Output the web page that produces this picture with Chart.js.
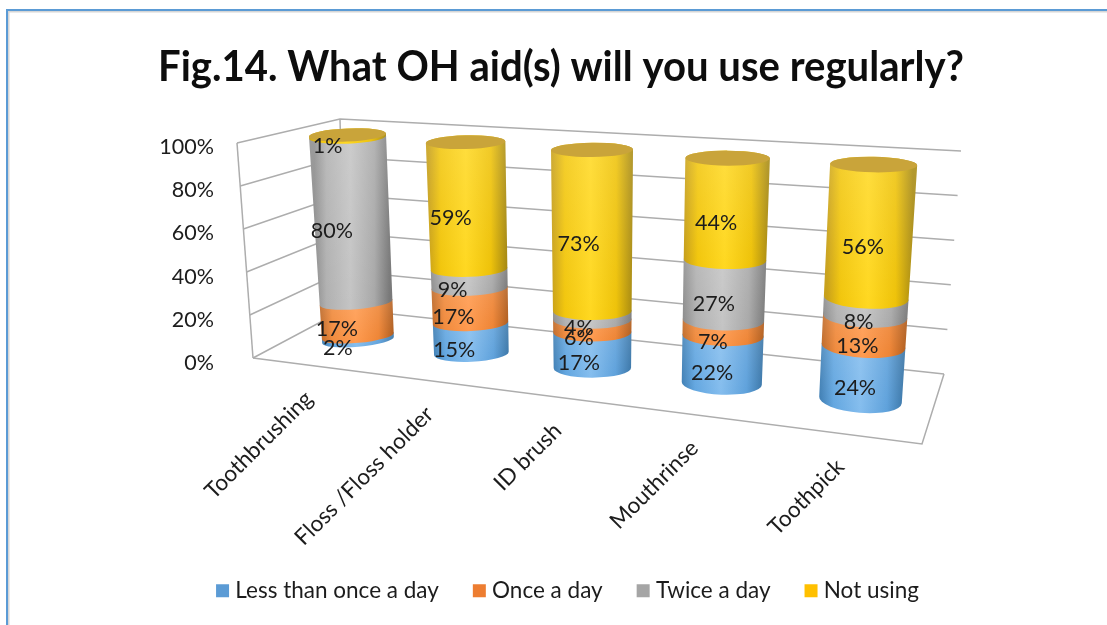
<!DOCTYPE html>
<html>
<head>
<meta charset="utf-8">
<title>Fig.14</title>
<script src="https://cdn.jsdelivr.net/npm/chart.js@4/dist/chart.umd.js"></script>
<style>
  html, body {margin: 0; padding: 0; background: #fff;}
  #wrap {position: relative; width: 1107px; height: 625px; overflow: hidden;}
  #frame {
    position: absolute; left: 6px; top: 9px; right: -4px; bottom: -4px;
    border-left: 2.5px solid #5b9bd5; border-top: 2.5px solid #5b9bd5;
    box-shadow: inset 1.5px 1.5px 0 #d6d6d6;
  }
  canvas {position: absolute; left: 0; top: 0;}
</style>
</head>
<body>
<div id="wrap">
  <div id="frame"></div>
  <canvas id="chart" width="1107" height="625"></canvas>
</div>
<script>
const FONT = "Lato, 'Open Sans', sans-serif";
const INK = "#1c1c1c";

const titleText = "Fig.14. What OH aid(s) will you use regularly?";
const categories = ["Toothbrushing", "Floss /Floss holder", "ID brush", "Mouthrinse", "Toothpick"];
const seriesNames = ["Less than once a day", "Once a day", "Twice a day", "Not using"];

const lessThanOnce = [2, 15, 17, 22, 24];
const onceADay = [17, 17, 6, 7, 13];
const twiceADay = [80, 9, 4, 27, 8];
const notUsing = [1, 59, 73, 44, 56];

const seriesValues = [lessThanOnce, onceADay, twiceADay, notUsing];
const seriesColors = ["#5b9bd5", "#ed7d31", "#a5a5a5", "#ffc000"];

// Side shading of a cylinder: left edge, flank, highlight, flank, right edge
const seriesShades = [
  ["#3f7fb5", "#62a6e0", "#84bdee", "#5ea1db", "#3a76a8"],
  ["#c06a28", "#f08a3c", "#ff9a4e", "#ee8434", "#b05c1c"],
  ["#8c8c8c", "#b0b0b0", "#c4c4c4", "#a8a8a8", "#787878"],
  ["#c8a018", "#f2c60c", "#ffd820", "#eec208", "#a88a10"]
];
const capColor = "#c9a43a";
const gridColor = "#adadad";

// Oblique view: where the plane through the cylinder axes lands on the page
const axisPlane = [[358, 340], [860.5, 400], [873.5, 167], [347.5, 135]];
// Walls of the box, each corner given at 0% and at 100%
const wallFront = {low: [253, 358], high: [237, 143]};
const wallBack = {low: [345, 309], high: [340, 119]};
const wallRight = {low: [944, 374], high: [961, 151]};
const floorFrontRight = [922, 444];

// Bilinear corners: [first-bottom, last-bottom, last-top, first-top]
const radiusFactor = [0.947, 1.09, 1.145, 1.013];
const squash = [0.19, 0.31, 0.18, 0.17];
const tilt = [-0.09, 0.08, 0.02, -0.04];

function bilinear(c, s, t) {
  const low = c[0] + (c[1] - c[0]) * s;
  const high = c[3] + (c[2] - c[3]) * s;
  return low + (high - low) * t;
}

function lerpPoint(a, b, t) {
  return [a[0] + (b[0] - a[0]) * t, a[1] + (b[1] - a[1]) * t];
}

// Unit square to quad
function makeProjection(q) {
  const [[x0, y0], [x1, y1], [x2, y2], [x3, y3]] = q;
  const dx1 = x1 - x2, dx2 = x3 - x2, sx = x0 - x1 + x2 - x3;
  const dy1 = y1 - y2, dy2 = y3 - y2, sy = y0 - y1 + y2 - y3;
  const den = dx1 * dy2 - dx2 * dy1;
  const g = (sx * dy2 - dx2 * sy) / den;
  const h = (dx1 * sy - sx * dy1) / den;
  const a = x1 - x0 + g * x1, b = x3 - x0 + h * x3;
  const d = y1 - y0 + g * y1, e = y3 - y0 + h * y3;
  return (s, t) => {
    const w = g * s + h * t + 1;
    return [(a * s + b * t + x0) / w, (d * s + e * t + y0) / w];
  };
}

const project = makeProjection(axisPlane);

// Chart pixel to plane coordinates, first bar = 0, last bar = 1, 0% = 0, 100% = 1
function planeCoords(chart, px, py) {
  const x = chart.scales.x, y = chart.scales.y;
  const left = x.getPixelForTick(0), right = x.getPixelForTick(categories.length - 1);
  const y0 = y.getPixelForValue(0), y100 = y.getPixelForValue(100);
  return [(px - left) / (right - left), (y0 - py) / (y0 - y100)];
}

function drawWalls(chart) {
  const {ctx, scales: {y}} = chart;
  const y0 = y.getPixelForValue(0), y100 = y.getPixelForValue(100);
  ctx.save();
  ctx.strokeStyle = gridColor;
  ctx.lineWidth = 1.5;
  const line = (...pts) => {
    ctx.beginPath();
    pts.forEach((p, i) => i ? ctx.lineTo(p[0], p[1]) : ctx.moveTo(p[0], p[1]));
    ctx.stroke();
  };
  y.ticks.forEach(tick => {
    const t = (y0 - y.getPixelForValue(tick.value)) / (y0 - y100);
    line(
      lerpPoint(wallFront.low, wallFront.high, t),
      lerpPoint(wallBack.low, wallBack.high, t),
      lerpPoint(wallRight.low, wallRight.high, t)
    );
  });
  line(wallFront.low, wallFront.high);
  line(wallBack.low, wallBack.high);
  line(wallFront.low, floorFrontRight, wallRight.low);
  ctx.restore();
}

function ring(chart, el, py) {
  const [s, t] = planeCoords(chart, el.x, py);
  const [cx, cy] = project(s, t);
  const rx = el.width / 2 * bilinear(radiusFactor, s, t);
  return {cx, cy, rx, ry: rx * bilinear(squash, s, t), rot: bilinear(tilt, s, t)};
}

function drawSegment(chart, el, shades, withCap) {
  const {ctx} = chart;
  const low = ring(chart, el, el.base);
  const high = ring(chart, el, el.y);

  ctx.beginPath();
  ctx.ellipse(low.cx, low.cy, low.rx, low.ry, low.rot, 0, Math.PI);
  ctx.ellipse(high.cx, high.cy, high.rx, high.ry, high.rot, Math.PI, Math.PI * 2);
  ctx.closePath();

  const midX = (low.cx + high.cx) / 2, midR = (low.rx + high.rx) / 2;
  const side = ctx.createLinearGradient(midX - midR, 0, midX + midR, 0);
  [0, 0.16, 0.48, 0.8, 1].forEach((stop, i) => side.addColorStop(stop, shades[i]));
  ctx.fillStyle = side;
  ctx.fill();

  // Light falls from above, each band fades downwards
  const sheen = ctx.createLinearGradient(0, high.cy - high.ry, 0, low.cy + low.ry);
  sheen.addColorStop(0, "rgba(255,255,255,0.14)");
  sheen.addColorStop(1, "rgba(255,255,255,0)");
  ctx.fillStyle = sheen;
  ctx.fill();

  if (withCap) {
    ctx.beginPath();
    ctx.ellipse(high.cx, high.cy, high.rx, high.ry, high.rot, 0, Math.PI * 2);
    ctx.fillStyle = capColor;
    ctx.fill();
  }
}

const obliqueBars = {
  id: "obliqueBars",
  afterLayout(chart) {
    // legend sits a little right of the title's centre line
    chart.legend.left += 9;
    chart.legend.right += 9;
  },
  beforeDatasetDraw() {
    return false; // flat rectangles are replaced by the cylinders below
  },
  beforeDatasetsDraw(chart) {
    drawWalls(chart);
    categories.forEach((_, i) => {
      seriesValues.forEach((_, ds) => {
        const el = chart.getDatasetMeta(ds).data[i];
        drawSegment(chart, el, seriesShades[ds], ds === seriesValues.length - 1);
      });
    });
  },
  afterDatasetsDraw(chart) {
    const {ctx} = chart;
    ctx.save();
    ctx.fillStyle = INK;
    ctx.textBaseline = "middle";
    ctx.textAlign = "center";
    ctx.font = "21.5px " + FONT;
    seriesValues.forEach((values, ds) => {
      chart.getDatasetMeta(ds).data.forEach((el, i) => {
        const [s, t] = planeCoords(chart, el.x, (el.y + el.base) / 2);
        const [px, py] = project(s, t);
        ctx.fillText(values[i] + "%", px - 20 + 13 * s, py + 10 + 5 * s);
      });
    });

    // Category labels follow the slanted front edge of the floor
    ctx.textAlign = "right";
    ctx.font = "22.5px " + FONT;
    categories.forEach((name, i) => {
      const el = chart.getDatasetMeta(0).data[i];
      const [s] = planeCoords(chart, el.x, el.base);
      const [px, py] = project(s, 0);
      ctx.save();
      ctx.translate(px - 49 + 29 * s, py + 55 + 8 * s);
      ctx.rotate(-Math.PI / 4);
      ctx.fillText(name, 0, 0);
      ctx.restore();
    });
    ctx.restore();
  }
};

new Chart(document.getElementById("chart"), {
  type: "bar",
  plugins: [obliqueBars],
  data: {
    labels: categories,
    datasets: seriesNames.map((name, i) => ({
      label: name,
      data: seriesValues[i],
      backgroundColor: seriesColors[i],
      categoryPercentage: 1,
      barPercentage: 0.5135
    }))
  },
  options: {
    responsive: false,
    animation: false,
    layout: {padding: {left: 158, right: 143, top: 0, bottom: 13}},
    scales: {
      x: {
        stacked: true,
        grid: {display: false},
        border: {display: false},
        ticks: {display: false},
        afterFit(scale) { scale.height = 177.5; }
      },
      y: {
        stacked: true,
        min: 0,
        max: 100,
        grid: {display: false, drawTicks: false},
        border: {display: false},
        ticks: {
          stepSize: 20,
          padding: 10,
          color: INK,
          font: {family: FONT, size: 21.5},
          callback: value => value + "%"
        },
        afterFit(scale) { scale.width = 66; }
      }
    },
    plugins: {
      title: {
        display: true,
        text: titleText,
        color: "#0d0d0d",
        font: {family: FONT, size: 42.1, weight: "bold", lineHeight: 1.2},
        padding: {top: 42, bottom: 54.5}
      },
      legend: {
        position: "bottom",
        labels: {
          color: INK,
          font: {family: FONT, size: 22.5},
          boxWidth: 3,
          boxHeight: 3,
          padding: 39,
          // thick outline keeps the swatch square and close to its text
          generateLabels(chart) {
            return Chart.defaults.plugins.legend.labels.generateLabels(chart)
              .map(item => ({...item, lineWidth: 10, strokeStyle: item.fillStyle}));
          }
        }
      },
      tooltip: {enabled: false}
    }
  }
});
</script>
</body>
</html>
